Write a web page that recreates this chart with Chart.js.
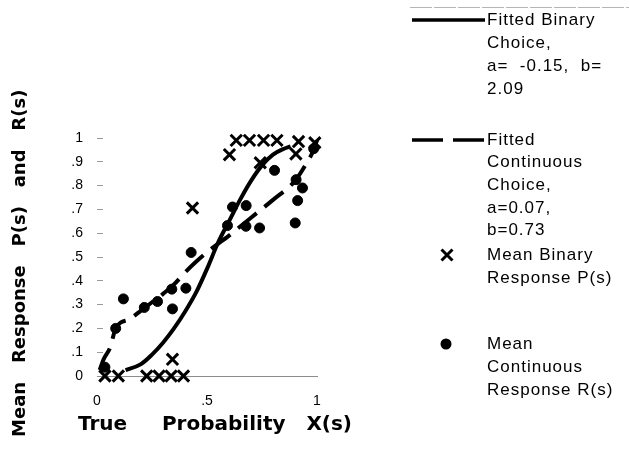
<!DOCTYPE html>
<html>
<head>
<meta charset="utf-8">
<title>Mean response vs true probability</title>
<script src="https://cdn.jsdelivr.net/npm/chart.js@4.4.1/dist/chart.umd.min.js"></script>
<style>
  html, body { margin: 0; padding: 0; background: #fff; }
  #wrap { width: 629px; height: 454px; }
</style>
</head>
<body>
<div id="wrap"><canvas id="response-chart" width="629" height="454"></canvas></div>
<script>
// mean binary response P(s) at each true probability X(s)
const binaryX = [0.036, 0.097, 0.226, 0.282, 0.337, 0.393, 0.343, 0.434, 0.602, 0.633, 0.693, 0.757, 0.818, 0.742, 0.904, 0.916, 0.99];
const binaryY = [0, 0, 0, 0, 0, 0, 0.07, 0.706, 0.93, 0.99, 0.99, 0.99, 0.99, 0.896, 0.933, 0.985, 0.98];

// mean continuous response R(s)
const contX = [0.036, 0.085, 0.12, 0.215, 0.275, 0.34, 0.343, 0.404, 0.428, 0.593, 0.616, 0.678, 0.677, 0.739, 0.807, 0.905, 0.934, 0.912, 0.901, 0.985];
const contY = [0.037, 0.2, 0.324, 0.288, 0.313, 0.365, 0.282, 0.369, 0.519, 0.632, 0.71, 0.716, 0.629, 0.622, 0.864, 0.825, 0.79, 0.737, 0.643, 0.955];

// fitted binary choice, a = -0.15, b = 2.09
const fitBinX = [0.13, 0.2, 0.25, 0.3, 0.35, 0.4, 0.45, 0.5, 0.55, 0.6, 0.65, 0.7, 0.75, 0.8, 0.85, 0.88];
const fitBinY = [0.025, 0.05, 0.09, 0.14, 0.2, 0.27, 0.35, 0.45, 0.56, 0.65, 0.74, 0.82, 0.885, 0.93, 0.955, 0.965];

// fitted continuous choice, a = 0.07, b = 0.73
const fitContX = [0.012, 0.03, 0.06, 0.085, 0.15, 0.2, 0.25, 0.3, 0.35, 0.4, 0.45, 0.5, 0.6, 0.7, 0.8, 0.9, 0.95, 0.98, 1.0];
const fitContY = [0.025, 0.07, 0.12, 0.2, 0.24, 0.275, 0.31, 0.345, 0.385, 0.435, 0.48, 0.52, 0.59, 0.665, 0.74, 0.82, 0.89, 0.94, 0.99];

const xTickValues = [0, 0.5, 1];
const xTickLabels = ['0', '.5', '1'];
const yTickValues = [0, 0.1, 0.2, 0.3, 0.4, 0.5, 0.6, 0.7, 0.8, 0.9, 1];
const yTickLabels = ['0', '.1', '.2', '.3', '.4', '.5', '.6', '.7', '.8', '.9', '1'];

Chart.defaults.font.family = '"Liberation Sans", Arial, Helvetica, sans-serif';
Chart.defaults.color = '#000';

const titleFont = '"DejaVu Sans", "Liberation Sans", Arial, sans-serif';

function toPoints(xs, ys) {
    return xs.map(function (x, i) {
        return { x: x, y: ys[i] };
    });
}

// key on the right hand side
const keyLines = [
    ['Fitted Binary', 20], ['Choice,', 43], ['a=  -0.15,  b=', 66], ['2.09', 89],
    ['Fitted', 140], ['Continuous', 162], ['Choice,', 185], ['a=0.07,', 208], ['b=0.73', 230],
    ['Mean Binary', 255], ['Response P(s)', 278],
    ['Mean', 344], ['Continuous', 367], ['Response R(s)', 390]
];

const keyPlugin = {
    id: 'sideKey',
    afterDraw: function (chart) {
        const ctx = chart.ctx;
        ctx.save();

        // x axis title: the built-in one is squeezed to the axis width
        ctx.font = 'bold 20px ' + titleFont;
        ctx.fillStyle = '#000';
        ctx.textAlign = 'center';
        ctx.textBaseline = 'middle';
        ctx.fillText('True     Probability   X(s)', 215, 425);

        ctx.letterSpacing = '1px';

        // thin rule above the key
        ctx.strokeStyle = '#b5b5b5';
        ctx.lineWidth = 1;
        ctx.setLineDash([22, 2]);
        ctx.beginPath();
        ctx.moveTo(410, 7.5);
        ctx.lineTo(629, 7.5);
        ctx.stroke();

        ctx.strokeStyle = '#000';
        ctx.lineWidth = 3.5;
        ctx.setLineDash([]);
        ctx.beginPath();
        ctx.moveTo(412, 20);
        ctx.lineTo(485, 20);
        ctx.stroke();

        ctx.setLineDash([31, 10]);
        ctx.beginPath();
        ctx.moveTo(412, 140);
        ctx.lineTo(485, 140);
        ctx.stroke();
        ctx.setLineDash([]);

        // cross marker
        ctx.lineWidth = 3;
        ctx.beginPath();
        ctx.moveTo(441.5, 249.5);
        ctx.lineTo(452.5, 260.5);
        ctx.moveTo(452.5, 249.5);
        ctx.lineTo(441.5, 260.5);
        ctx.stroke();

        // dot marker
        ctx.beginPath();
        ctx.arc(446, 344, 5.5, 0, Math.PI * 2);
        ctx.fill();

        ctx.font = '17px "Liberation Sans", Arial, Helvetica, sans-serif';
        ctx.textAlign = 'left';
        keyLines.forEach(function (line) {
            ctx.fillText(line[0], 487, line[1]);
        });
        ctx.restore();
    }
};

new Chart(document.getElementById('response-chart'), {
    type: 'scatter',
    data: {
        datasets: [
            {
                label: 'Fitted Binary Choice',
                data: toPoints(fitBinX, fitBinY),
                showLine: true,
                borderColor: '#000',
                borderWidth: 4,
                pointRadius: 0,
                cubicInterpolationMode: 'monotone',
                clip: false
            },
            {
                label: 'Fitted Continuous Choice',
                data: toPoints(fitContX, fitContY),
                showLine: true,
                borderColor: '#000',
                borderWidth: 4,
                borderDash: [24, 10],
                pointRadius: 0,
                cubicInterpolationMode: 'monotone',
                clip: false
            },
            {
                label: 'Mean Binary Response P(s)',
                data: toPoints(binaryX, binaryY),
                pointStyle: 'crossRot',
                pointRadius: 8,
                borderWidth: 3,
                borderColor: '#000',
                clip: false
            },
            {
                label: 'Mean Continuous Response R(s)',
                data: toPoints(contX, contY),
                pointStyle: 'circle',
                pointRadius: 5,
                borderWidth: 1,
                backgroundColor: '#000',
                borderColor: '#000',
                clip: false
            }
        ]
    },
    options: {
        responsive: false,
        animation: false,
        devicePixelRatio: 1,
        events: [],
        layout: { padding: { top: 138, right: 312, bottom: 0, left: 0 } },
        plugins: {
            legend: { display: false },
            tooltip: { enabled: false }
        },
        scales: {
            x: {
                type: 'linear',
                min: 0,
                max: 1,
                afterFit: function (scale) { scale.height = 78; },
                afterBuildTicks: function (scale) {
                    scale.ticks = xTickValues.map(function (v) { return { value: v }; });
                },
                ticks: {
                    callback: function (value, index) { return xTickLabels[index]; },
                    padding: 17,
                    maxRotation: 0,
                    autoSkip: false,
                    font: { size: 14 }
                },
                grid: { display: false, drawTicks: false },
                border: { display: true, color: '#8c8c8c', width: 1, dash: [9, 3] },
                title: { display: false }
            },
            y: {
                type: 'linear',
                min: 0,
                max: 1,
                afterFit: function (scale) { scale.width = 97; },
                afterBuildTicks: function (scale) {
                    scale.ticks = yTickValues.map(function (v) { return { value: v }; });
                },
                ticks: {
                    callback: function (value, index) { return yTickLabels[index]; },
                    padding: 20,
                    font: { size: 14 }
                },
                grid: { drawOnChartArea: false, drawTicks: true, tickLength: -6, color: '#9a9a9a', lineWidth: 1 },
                border: { display: false },
                title: {
                    display: true,
                    text: 'Mean   Response   P(s)   and   R(s)  ',
                    font: { family: titleFont, size: 18, weight: 'bold' },
                    padding: { top: 10, bottom: 0 }
                }
            }
        }
    },
    plugins: [keyPlugin]
});
</script>
</body>
</html>
